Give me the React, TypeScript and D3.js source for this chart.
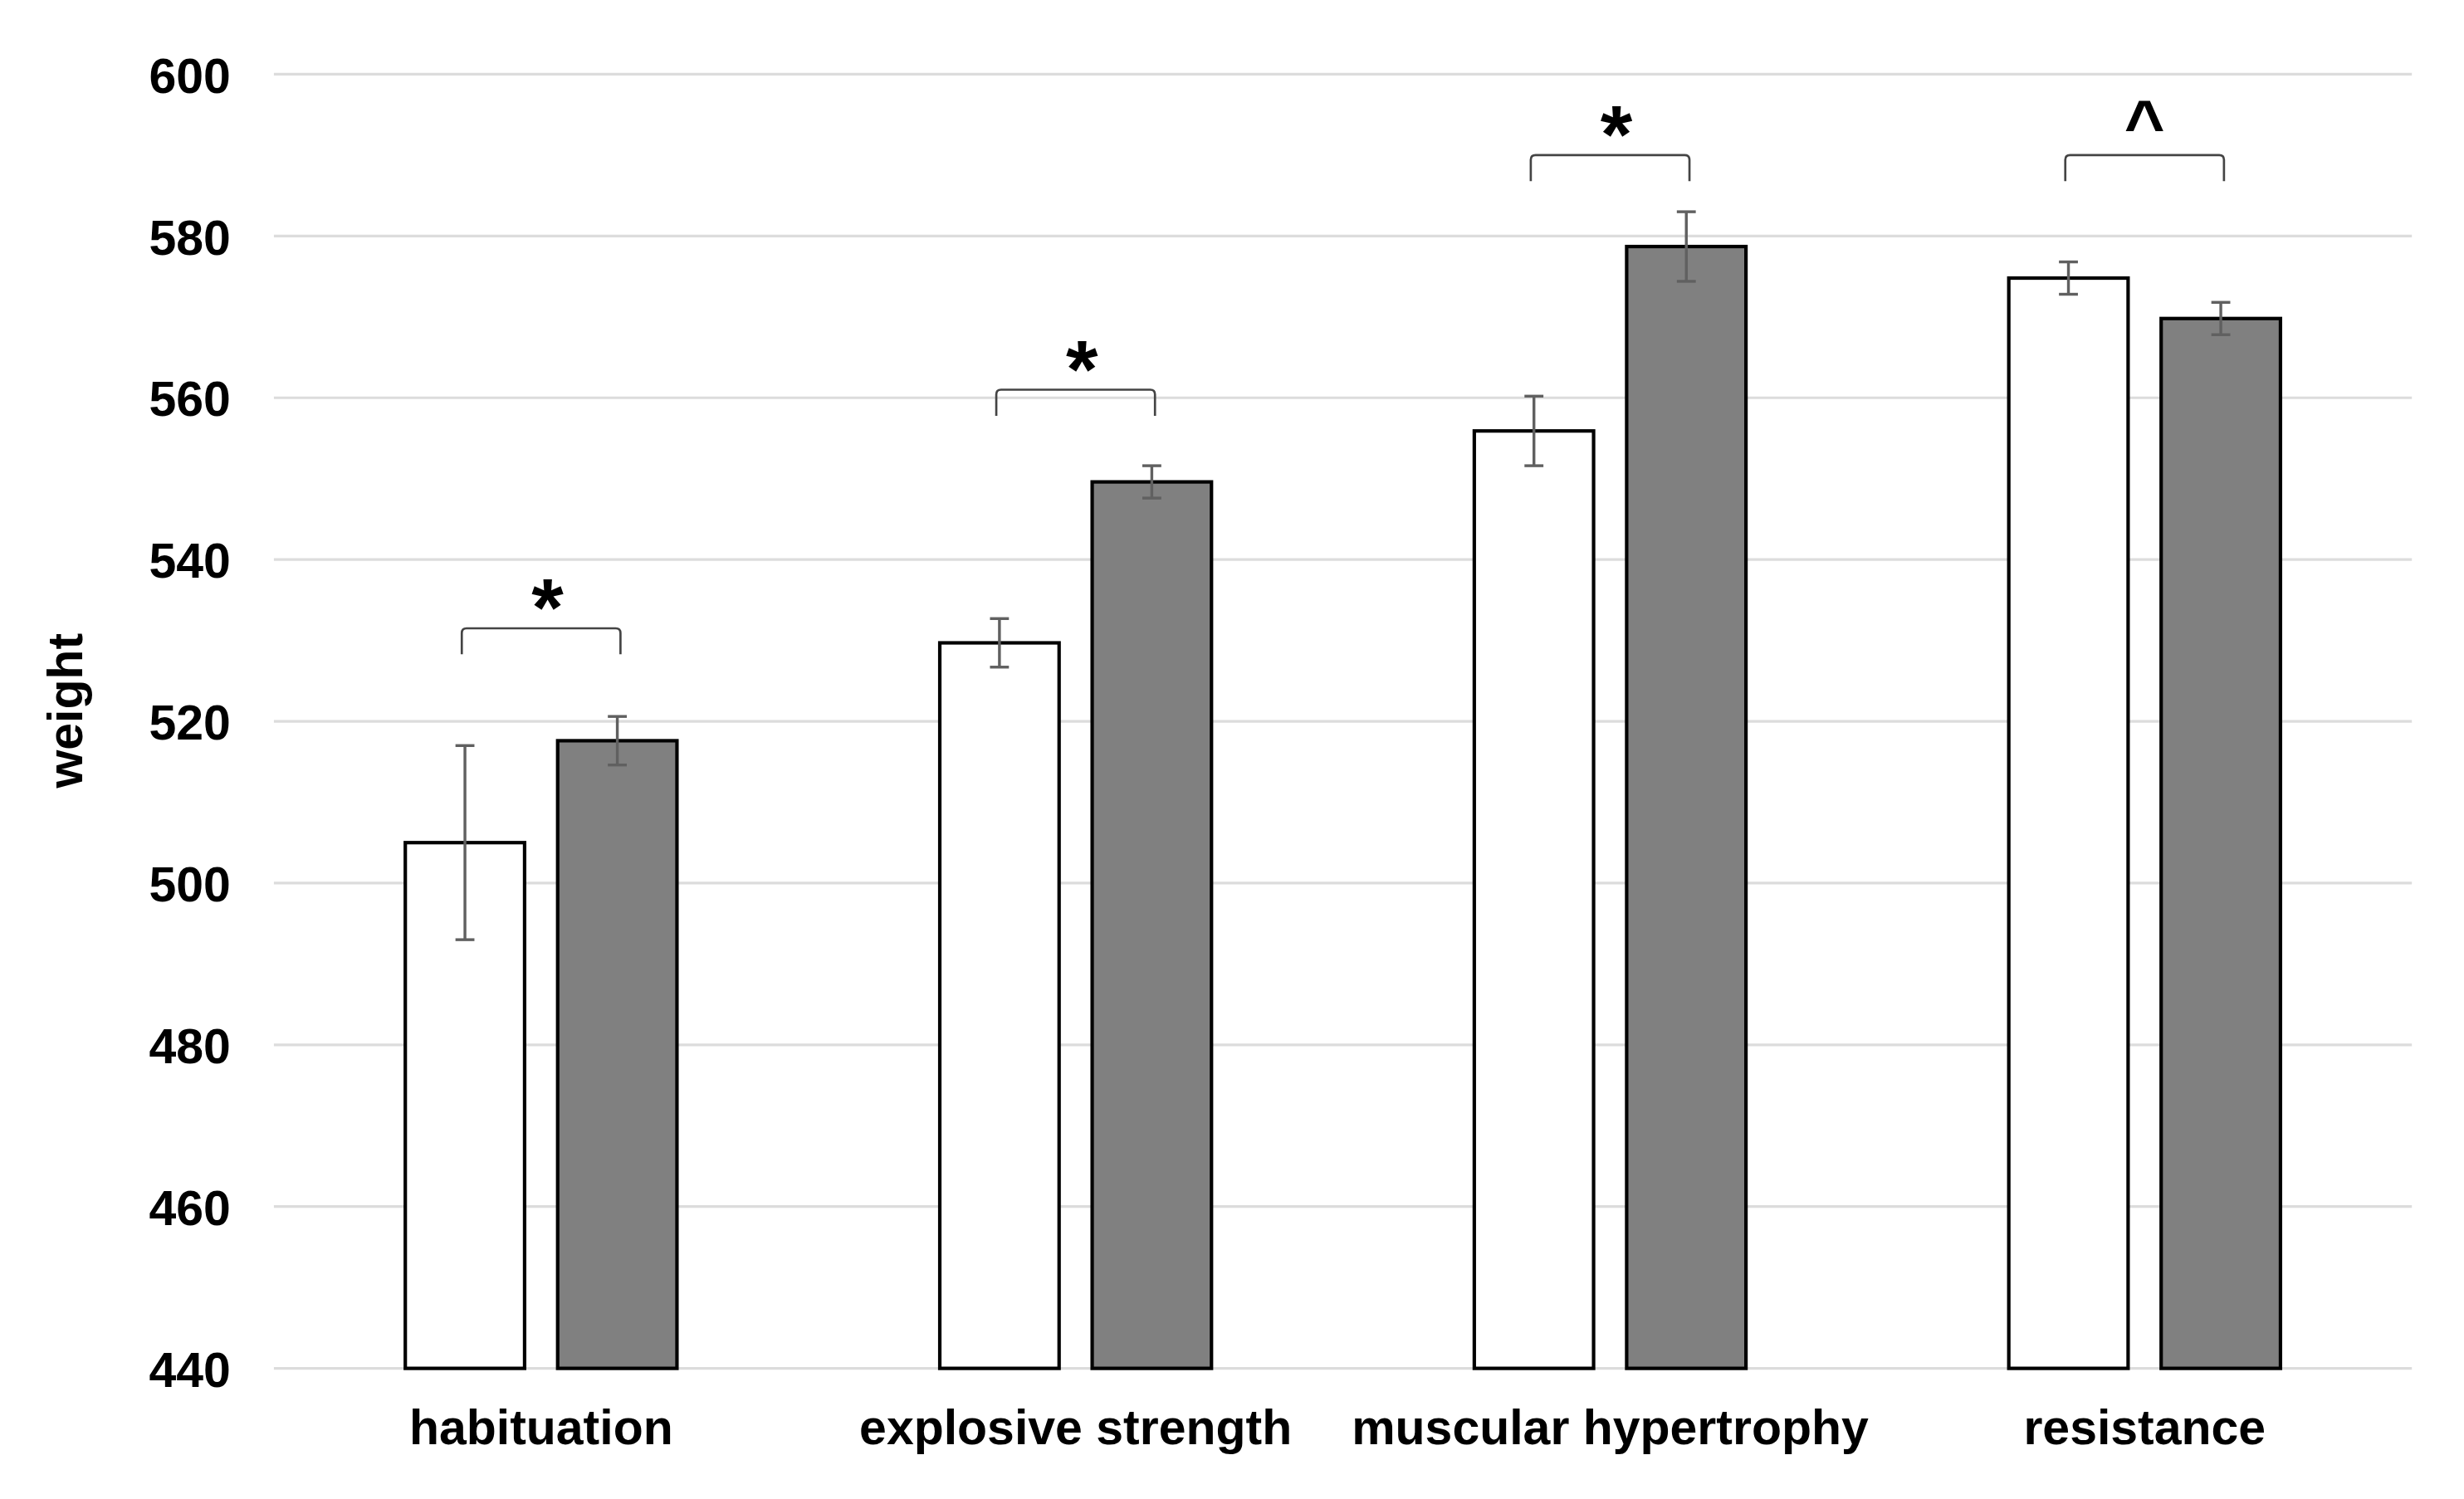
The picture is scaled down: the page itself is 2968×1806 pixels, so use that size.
import { useEffect, useRef } from "react";
import * as d3 from "d3";

const categories = ["habituation", "explosive strength", "muscular hypertrophy", "resistance"];
const seriesKeys = ["white", "gray"];
const whiteMeans = [505, 529.7, 555.9, 574.8];
const whiteErrors = [12, 3, 4.3, 2];
const grayMeans = [517.6, 549.6, 578.7, 569.8];
const grayErrors = [3, 2, 4.3, 2];
const bracketLevels = [531.5, 561, 590, 590];
const bracketMarks = ["*", "*", "*", "^"];
const yTicks = [440, 460, 480, 500, 520, 540, 560, 580, 600];

type T_Bar = { cat: string; key: string; mean: number; err: number };

const bars: T_Bar[] = categories.flatMap((cat, i) => [
  { cat, key: seriesKeys[0], mean: whiteMeans[i], err: whiteErrors[i] },
  { cat, key: seriesKeys[1], mean: grayMeans[i], err: grayErrors[i] },
]);

export default function App() {
  // drawing units: 1560 wide, scaled up to the 2968px picture
  const W = 1560;
  const H = 949.2;
  const svgRef = useRef<SVGSVGElement | null>(null);

  useEffect(() => {
    if (!svgRef.current) return;
    const svg = d3.select(svgRef.current);
    svg.selectAll("*").remove();
    const font = "'Liberation Sans', Arial, sans-serif";

    const x0 = d3.scaleBand().domain(categories).range([173.4, 1527]).padding(0);
    const x1 = d3
      .scaleBand()
      .domain(seriesKeys)
      .range([83.2, 255.2])
      .paddingInner(0.217)
      .paddingOuter(0);
    const y = d3.scaleLinear().domain([440, 600]).range([866.5, 47]);

    // gridlines
    svg
      .append("g")
      .selectAll("line")
      .data(yTicks)
      .enter()
      .append("line")
      .attr("x1", x0.range()[0])
      .attr("x2", x0.range()[1])
      .attr("y1", (d) => y(d))
      .attr("y2", (d) => y(d))
      .attr("stroke", "#dcdcdc")
      .attr("stroke-width", 1.7);

    // y axis labels
    const yAxis = d3.axisLeft(y).tickValues(yTicks).tickSize(0).tickPadding(0);
    const gy = svg.append<SVGGElement>("g").attr("transform", "translate(146,0)").call(yAxis);
    gy.select(".domain").remove();
    gy.selectAll("text")
      .attr("font-family", font)
      .attr("font-weight", "bold")
      .attr("font-size", 31)
      .attr("fill", "#000")
      .attr("dy", "0.36em");

    // axis title
    svg
      .append("text")
      .attr("transform", "translate(52,450) rotate(-90)")
      .attr("text-anchor", "middle")
      .attr("font-family", font)
      .attr("font-weight", "bold")
      .attr("font-size", 31)
      .text("weight");

    // bars
    svg
      .append("g")
      .selectAll("rect")
      .data(bars)
      .enter()
      .append("rect")
      .attr("x", (d) => (x0(d.cat) as number) + (x1(d.key) as number))
      .attr("y", (d) => y(d.mean))
      .attr("width", x1.bandwidth())
      .attr("height", (d) => y(440) - y(d.mean))
      .attr("fill", (d) => (d.key === "white" ? "#ffffff" : "#808080"))
      .attr("stroke", "#000")
      .attr("stroke-width", 2.2);

    // error bars
    const cx = (d: T_Bar) => (x0(d.cat) as number) + (x1(d.key) as number) + x1.bandwidth() / 2;
    const eg = svg.append("g").attr("stroke", "#606060").attr("stroke-width", 1.8);
    eg.selectAll("line.v")
      .data(bars)
      .enter()
      .append("line")
      .attr("x1", cx)
      .attr("x2", cx)
      .attr("y1", (d) => y(d.mean - d.err))
      .attr("y2", (d) => y(d.mean + d.err));
    [-1, 1].forEach((s) => {
      eg.selectAll(`line.c${s}`)
        .data(bars)
        .enter()
        .append("line")
        .attr("x1", (d) => cx(d) - 6)
        .attr("x2", (d) => cx(d) + 6)
        .attr("y1", (d) => y(d.mean + s * d.err))
        .attr("y2", (d) => y(d.mean + s * d.err));
    });

    // significance brackets
    const bg = svg.append("g");
    categories.forEach((cat, i) => {
      const left = (x0(cat) as number) + (x1(seriesKeys[0]) as number) + x1.bandwidth() / 2 - 2;
      const right = (x0(cat) as number) + (x1(seriesKeys[1]) as number) + x1.bandwidth() / 2 + 2;
      const top = y(bracketLevels[i]);
      const drop = 16.5;
      const r = 3;
      bg.append("path")
        .attr(
          "d",
          `M${left},${top + drop} L${left},${top + r} Q${left},${top} ${left + r},${top} ` +
            `L${right - r},${top} Q${right},${top} ${right},${top + r} L${right},${top + drop}`
        )
        .attr("fill", "none")
        .attr("stroke", "#444")
        .attr("stroke-width", 1.4);
      const isStar = bracketMarks[i] === "*";
      bg.append("text")
        .attr("x", (left + right) / 2 + (isStar ? 4 : 0))
        .attr("y", isStar ? top + 5 : top - 4)
        .attr("text-anchor", "middle")
        .attr("font-family", font)
        .attr("font-weight", "bold")
        .attr("font-size", isStar ? 52 : 44)
        .text(bracketMarks[i]);
    });

    // category labels
    svg
      .append("g")
      .selectAll("text")
      .data(categories)
      .enter()
      .append("text")
      .attr("x", (d) => (x0(d) as number) + x0.bandwidth() / 2)
      .attr("y", 914.5)
      .attr("text-anchor", "middle")
      .attr("font-family", font)
      .attr("font-weight", "bold")
      .attr("font-size", 31)
      .text((d) => d);
  }, []);

  return (
    <svg
      ref={svgRef}
      width={2968}
      height={1806}
      viewBox={`0 0 ${W} ${H}`}
      style={{ position: "absolute", left: 0, top: 0, background: "#fff" }}
    />
  );
}
